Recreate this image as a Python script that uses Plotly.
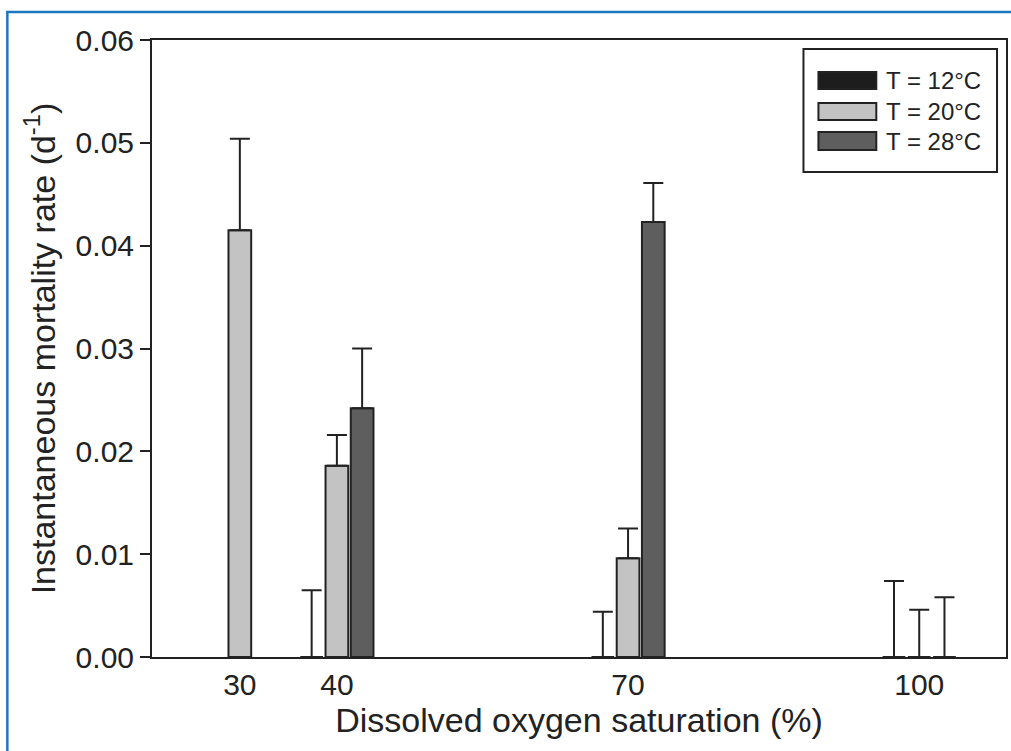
import plotly.graph_objects as go

# ---------------- data ----------------
oxygen_levels = [30, 40, 70, 100]
series_names = ["T = 12°C", "T = 20°C", "T = 28°C"]
mortality_12 = [None, 0.0, 0.0, 0.0]
mortality_20 = [0.0415, 0.0186, 0.0096, 0.0]
mortality_28 = [None, 0.0242, 0.0423, 0.0]
error_12 = [None, 0.0065, 0.0044, 0.0074]
error_20 = [0.0089, 0.0030, 0.0029, 0.0046]
error_28 = [None, 0.0058, 0.0038, 0.0058]
y_ticks = [0.00, 0.01, 0.02, 0.03, 0.04, 0.05, 0.06]

series_values = [mortality_12, mortality_20, mortality_28]
series_errors = [error_12, error_20, error_28]
colors = ["#1d1d1d", "#c3c3c3", "#5e5e5e"]
edge = "#222222"
FONT = "Liberation Sans, Arial, sans-serif"

fig = go.Figure()
for name, vals, errs, col in zip(series_names, series_values, series_errors, colors):
    fig.add_trace(go.Bar(
        x=oxygen_levels, y=vals, name=name,
        marker=dict(color=col, line=dict(color=edge, width=2)),
        error_y=dict(type="data", symmetric=False, array=errs,
                     arrayminus=[0 if e is not None else None for e in errs],
                     color=edge, thickness=2, width=10),
        showlegend=False,
    ))

# plot-area pixel geometry (for the hand-drawn legend)
L, R, T, B = 152, 1008, 40, 657
W, H = R - L, B - T
def px(x):
    return (x - L) / W
def py(y):
    return (B - y) / H

shapes = []
annotations = []
# legend box
shapes.append(dict(type="rect", xref="paper", yref="paper",
                   x0=px(805), x1=px(999), y0=py(172), y1=py(49),
                   line=dict(color=edge, width=2), fillcolor="white", layer="above"))
rows = [(72, 89), (103, 120), (132, 150)]
for (y0, y1), name, col in zip(rows, series_names, colors):
    shapes.append(dict(type="rect", xref="paper", yref="paper",
                       x0=px(820), x1=px(878), y0=py(y1), y1=py(y0),
                       line=dict(color=edge, width=2), fillcolor=col, layer="above"))
    annotations.append(dict(xref="paper", yref="paper", x=px(886), y=py((y0 + y1) / 2),
                            text=name, showarrow=False, xanchor="left", yanchor="middle",
                            font=dict(family=FONT, size=24, color="#222")))
# blue outer frame
shapes.append(dict(type="rect", xref="paper", yref="paper",
                   x0=px(7), x1=px(1030), y0=py(770), y1=py(12),
                   line=dict(color="#1a78c2", width=2.5), layer="above"))

fig.update_layout(
    width=1011, height=751,
    margin=dict(l=L, r=1011 - R, t=T, b=751 - B),
    paper_bgcolor="white", plot_bgcolor="white",
    barmode="group", bargap=0.22, bargroupgap=0.1,
    font=dict(family=FONT, color="#222"),
    shapes=shapes, annotations=annotations,
    xaxis=dict(range=[20.95, 108.94], tickvals=oxygen_levels,
               ticktext=[str(v) for v in oxygen_levels],
               showline=True, linecolor=edge, linewidth=2, mirror=True,
               ticks="", showgrid=False, zeroline=False,
               tickfont=dict(size=30, color="#222"),
               title=dict(text="Dissolved oxygen saturation (%)",
                          font=dict(size=34, color="#222"), standoff=6)),
    yaxis=dict(range=[0, 0.06], tickvals=y_ticks,
               ticktext=[f"{v:.2f}" for v in y_ticks],
               showline=True, linecolor=edge, linewidth=2, mirror=True,
               ticks="outside", ticklen=10, tickwidth=2, tickcolor=edge,
               showgrid=False, zeroline=False,
               tickfont=dict(size=30, color="#222"),
               title=dict(text="Instantaneous mortality rate (d<sup>-1</sup>)",
                          font=dict(size=34, color="#222"), standoff=10)),
)

fig.write_html("out.html")
